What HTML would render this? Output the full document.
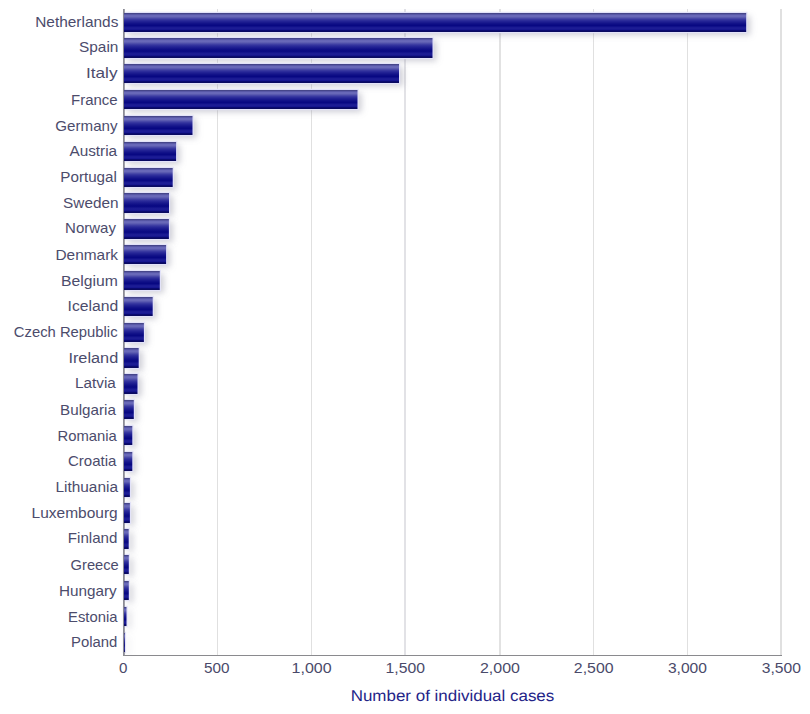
<!DOCTYPE html><html><head><meta charset="utf-8"><style>html,body{margin:0;padding:0;background:#fff;}svg{display:block;}text{font-family:"Liberation Sans",sans-serif;}</style></head><body>
<svg width="810" height="714" viewBox="0 0 810 714">
<defs>
<linearGradient id="g" x1="0" y1="0" x2="0" y2="1">
<stop offset="0.0263" stop-color="#46468a"/>
<stop offset="0.0789" stop-color="#5858a6"/>
<stop offset="0.1316" stop-color="#6868b8"/>
<stop offset="0.1842" stop-color="#6868b8"/>
<stop offset="0.2368" stop-color="#5a5ab0"/>
<stop offset="0.2895" stop-color="#4848a8"/>
<stop offset="0.3421" stop-color="#3838a0"/>
<stop offset="0.3947" stop-color="#2c2c9a"/>
<stop offset="0.4474" stop-color="#222294"/>
<stop offset="0.5000" stop-color="#1a1a8e"/>
<stop offset="0.5526" stop-color="#121289"/>
<stop offset="0.6053" stop-color="#0c0c85"/>
<stop offset="0.6579" stop-color="#080882"/>
<stop offset="0.7105" stop-color="#10108a"/>
<stop offset="0.7632" stop-color="#1a1a92"/>
<stop offset="0.8158" stop-color="#1c1c94"/>
<stop offset="0.8684" stop-color="#161690"/>
<stop offset="0.9211" stop-color="#0a0a70"/>
<stop offset="0.9737" stop-color="#0a0a60"/>
</linearGradient>
<filter id="sh" x="0" y="0" width="810" height="714" filterUnits="userSpaceOnUse">
<feGaussianBlur in="SourceAlpha" stdDeviation="3"/>
<feOffset dx="3.5" dy="3" result="b"/>
<feFlood flood-color="#8a8a9c" flood-opacity="0.42"/>
<feComposite in2="b" operator="in"/>
</filter>
</defs>
<rect width="810" height="714" fill="#fff"/>
<rect x="217" y="9" width="1" height="646" fill="#e0e0e0"/>
<rect x="311" y="9" width="1" height="646" fill="#e0e0e0"/>
<rect x="404" y="9" width="2" height="646" fill="#e2e2e6"/>
<rect x="499" y="9" width="2" height="646" fill="#e2e2e2"/>
<rect x="593" y="9" width="1" height="646" fill="#e0e0e0"/>
<rect x="687" y="9" width="1" height="646" fill="#e0e0e0"/>
<rect x="780" y="9" width="2" height="646" fill="#e0e0e0"/>
<rect x="124.00" y="13.00" width="622.20" height="19" fill="#000" filter="url(#sh)"/>
<rect x="124.00" y="38.00" width="308.50" height="20" fill="#000" filter="url(#sh)"/>
<rect x="124.00" y="64.00" width="275.00" height="19" fill="#000" filter="url(#sh)"/>
<rect x="124.00" y="90.00" width="233.50" height="19" fill="#000" filter="url(#sh)"/>
<rect x="124.00" y="116.00" width="68.50" height="19" fill="#000" filter="url(#sh)"/>
<rect x="124.00" y="142.00" width="52.10" height="19" fill="#000" filter="url(#sh)"/>
<rect x="124.00" y="168.00" width="48.70" height="19" fill="#000" filter="url(#sh)"/>
<rect x="124.00" y="193.00" width="45.00" height="20" fill="#000" filter="url(#sh)"/>
<rect x="124.00" y="219.00" width="44.90" height="20" fill="#000" filter="url(#sh)"/>
<rect x="124.00" y="245.00" width="42.10" height="19" fill="#000" filter="url(#sh)"/>
<rect x="124.00" y="271.00" width="35.80" height="19" fill="#000" filter="url(#sh)"/>
<rect x="124.00" y="297.00" width="28.70" height="19" fill="#000" filter="url(#sh)"/>
<rect x="124.00" y="323.00" width="19.90" height="19" fill="#000" filter="url(#sh)"/>
<rect x="124.00" y="348.00" width="14.70" height="20" fill="#000" filter="url(#sh)"/>
<rect x="124.00" y="374.00" width="13.50" height="20" fill="#000" filter="url(#sh)"/>
<rect x="124.00" y="400.00" width="9.80" height="19" fill="#000" filter="url(#sh)"/>
<rect x="124.00" y="426.00" width="8.30" height="19" fill="#000" filter="url(#sh)"/>
<rect x="124.00" y="452.00" width="8.30" height="19" fill="#000" filter="url(#sh)"/>
<rect x="124.00" y="478.00" width="5.90" height="19" fill="#000" filter="url(#sh)"/>
<rect x="124.00" y="503.00" width="5.90" height="20" fill="#000" filter="url(#sh)"/>
<rect x="124.00" y="529.00" width="4.70" height="20" fill="#000" filter="url(#sh)"/>
<rect x="124.00" y="555.00" width="4.80" height="19" fill="#000" filter="url(#sh)"/>
<rect x="124.00" y="581.00" width="4.80" height="19" fill="#000" filter="url(#sh)"/>
<rect x="124.00" y="607.00" width="2.50" height="19" fill="#000" filter="url(#sh)"/>
<rect x="124.00" y="633.00" width="0.90" height="19" fill="#000" filter="url(#sh)"/>
<rect x="124.00" y="13.00" width="622.20" height="19" fill="none" stroke="#e2e2f8" stroke-width="2.4"/>
<rect x="124.00" y="38.00" width="308.50" height="20" fill="none" stroke="#e2e2f8" stroke-width="2.4"/>
<rect x="124.00" y="64.00" width="275.00" height="19" fill="none" stroke="#e2e2f8" stroke-width="2.4"/>
<rect x="124.00" y="90.00" width="233.50" height="19" fill="none" stroke="#e2e2f8" stroke-width="2.4"/>
<rect x="124.00" y="116.00" width="68.50" height="19" fill="none" stroke="#e2e2f8" stroke-width="2.4"/>
<rect x="124.00" y="142.00" width="52.10" height="19" fill="none" stroke="#e2e2f8" stroke-width="2.4"/>
<rect x="124.00" y="168.00" width="48.70" height="19" fill="none" stroke="#e2e2f8" stroke-width="2.4"/>
<rect x="124.00" y="193.00" width="45.00" height="20" fill="none" stroke="#e2e2f8" stroke-width="2.4"/>
<rect x="124.00" y="219.00" width="44.90" height="20" fill="none" stroke="#e2e2f8" stroke-width="2.4"/>
<rect x="124.00" y="245.00" width="42.10" height="19" fill="none" stroke="#e2e2f8" stroke-width="2.4"/>
<rect x="124.00" y="271.00" width="35.80" height="19" fill="none" stroke="#e2e2f8" stroke-width="2.4"/>
<rect x="124.00" y="297.00" width="28.70" height="19" fill="none" stroke="#e2e2f8" stroke-width="2.4"/>
<rect x="124.00" y="323.00" width="19.90" height="19" fill="none" stroke="#e2e2f8" stroke-width="2.4"/>
<rect x="124.00" y="348.00" width="14.70" height="20" fill="none" stroke="#e2e2f8" stroke-width="2.4"/>
<rect x="124.00" y="374.00" width="13.50" height="20" fill="none" stroke="#e2e2f8" stroke-width="2.4"/>
<rect x="124.00" y="400.00" width="9.80" height="19" fill="none" stroke="#e2e2f8" stroke-width="2.4"/>
<rect x="124.00" y="426.00" width="8.30" height="19" fill="none" stroke="#e2e2f8" stroke-width="2.4"/>
<rect x="124.00" y="452.00" width="8.30" height="19" fill="none" stroke="#e2e2f8" stroke-width="2.4"/>
<rect x="124.00" y="478.00" width="5.90" height="19" fill="none" stroke="#e2e2f8" stroke-width="2.4"/>
<rect x="124.00" y="503.00" width="5.90" height="20" fill="none" stroke="#e2e2f8" stroke-width="2.4"/>
<rect x="124.00" y="529.00" width="4.70" height="20" fill="none" stroke="#e2e2f8" stroke-width="2.4"/>
<rect x="124.00" y="555.00" width="4.80" height="19" fill="none" stroke="#e2e2f8" stroke-width="2.4"/>
<rect x="124.00" y="581.00" width="4.80" height="19" fill="none" stroke="#e2e2f8" stroke-width="2.4"/>
<rect x="124.00" y="607.00" width="2.50" height="19" fill="none" stroke="#e2e2f8" stroke-width="2.4"/>
<rect x="124.00" y="633.00" width="0.90" height="19" fill="none" stroke="#e2e2f8" stroke-width="2.4"/>
<rect x="123" y="9" width="1.8" height="647" fill="#8c8c96"/>
<rect x="124.00" y="13.00" width="622.20" height="19" fill="url(#g)"/>
<rect x="124.00" y="38.00" width="308.50" height="20" fill="url(#g)"/>
<rect x="124.00" y="64.00" width="275.00" height="19" fill="url(#g)"/>
<rect x="124.00" y="90.00" width="233.50" height="19" fill="url(#g)"/>
<rect x="124.00" y="116.00" width="68.50" height="19" fill="url(#g)"/>
<rect x="124.00" y="142.00" width="52.10" height="19" fill="url(#g)"/>
<rect x="124.00" y="168.00" width="48.70" height="19" fill="url(#g)"/>
<rect x="124.00" y="193.00" width="45.00" height="20" fill="url(#g)"/>
<rect x="124.00" y="219.00" width="44.90" height="20" fill="url(#g)"/>
<rect x="124.00" y="245.00" width="42.10" height="19" fill="url(#g)"/>
<rect x="124.00" y="271.00" width="35.80" height="19" fill="url(#g)"/>
<rect x="124.00" y="297.00" width="28.70" height="19" fill="url(#g)"/>
<rect x="124.00" y="323.00" width="19.90" height="19" fill="url(#g)"/>
<rect x="124.00" y="348.00" width="14.70" height="20" fill="url(#g)"/>
<rect x="124.00" y="374.00" width="13.50" height="20" fill="url(#g)"/>
<rect x="124.00" y="400.00" width="9.80" height="19" fill="url(#g)"/>
<rect x="124.00" y="426.00" width="8.30" height="19" fill="url(#g)"/>
<rect x="124.00" y="452.00" width="8.30" height="19" fill="url(#g)"/>
<rect x="124.00" y="478.00" width="5.90" height="19" fill="url(#g)"/>
<rect x="124.00" y="503.00" width="5.90" height="20" fill="url(#g)"/>
<rect x="124.00" y="529.00" width="4.70" height="20" fill="url(#g)"/>
<rect x="124.00" y="555.00" width="4.80" height="19" fill="url(#g)"/>
<rect x="124.00" y="581.00" width="4.80" height="19" fill="url(#g)"/>
<rect x="124.00" y="607.00" width="2.50" height="19" fill="url(#g)"/>
<rect x="124.00" y="633.00" width="0.90" height="19" fill="url(#g)"/>
<rect x="123" y="655" width="659" height="1" fill="#8a8a8e"/>
<text x="118" y="27.00" text-anchor="end" font-size="14" fill="#4c4c6c" transform="translate(-11.765,0.000) scale(1.1027,1.0)">Netherlands</text>
<text x="118" y="52.00" text-anchor="end" font-size="14" fill="#4c4c6c" transform="translate(-11.584,0.000) scale(1.1016,1.0)">Spain</text>
<text x="118" y="78.00" text-anchor="end" font-size="14" fill="#4c4c6c" transform="translate(-27.415,0.000) scale(1.2284,1.0)">Italy</text>
<text x="118" y="105.00" text-anchor="end" font-size="14" fill="#4c4c6c" transform="translate(-8.612,0.000) scale(1.0705,1.0)">France</text>
<text x="118" y="131.00" text-anchor="end" font-size="14" fill="#4c4c6c" transform="translate(-10.005,0.000) scale(1.0809,1.0)">Germany</text>
<text x="118" y="156.00" text-anchor="end" font-size="14" fill="#4c4c6c" transform="translate(-12.231,0.000) scale(1.0966,1.0)">Austria</text>
<text x="118" y="182.00" text-anchor="end" font-size="14" fill="#4c4c6c" transform="translate(-11.152,0.000) scale(1.0848,1.0)">Portugal</text>
<text x="118" y="208.00" text-anchor="end" font-size="14" fill="#4c4c6c" transform="translate(-10.783,0.000) scale(1.0956,1.0)">Sweden</text>
<text x="118" y="233.00" text-anchor="end" font-size="14" fill="#4c4c6c" transform="translate(-10.507,0.000) scale(1.0716,1.0)">Norway</text>
<text x="118" y="260.00" text-anchor="end" font-size="14" fill="#4c4c6c" transform="translate(-12.046,0.000) scale(1.1025,1.0)">Denmark</text>
<text x="118" y="286.00" text-anchor="end" font-size="14" fill="#4c4c6c" transform="translate(-14.739,0.000) scale(1.1232,1.0)">Belgium</text>
<text x="118" y="311.00" text-anchor="end" font-size="14" fill="#4c4c6c" transform="translate(-14.408,0.000) scale(1.1240,1.0)">Iceland</text>
<text x="118" y="337.00" text-anchor="end" font-size="14" fill="#4c4c6c" transform="translate(-7.338,0.000) scale(1.0585,1.0)">Czech Republic</text>
<text x="118" y="363.00" text-anchor="end" font-size="14" fill="#4c4c6c" transform="translate(-19.089,0.000) scale(1.1639,1.0)">Ireland</text>
<text x="118" y="388.00" text-anchor="end" font-size="14" fill="#4c4c6c" transform="translate(-13.066,0.000) scale(1.0926,1.0)">Latvia</text>
<text x="118" y="415.00" text-anchor="end" font-size="14" fill="#4c4c6c" transform="translate(-12.369,0.000) scale(1.0867,1.0)">Bulgaria</text>
<text x="118" y="441.00" text-anchor="end" font-size="14" fill="#4c4c6c" transform="translate(-8.044,0.000) scale(1.0586,1.0)">Romania</text>
<text x="118" y="466.00" text-anchor="end" font-size="14" fill="#4c4c6c" transform="translate(-10.503,0.000) scale(1.0752,1.0)">Croatia</text>
<text x="118" y="492.00" text-anchor="end" font-size="14" fill="#4c4c6c" transform="translate(-11.950,0.000) scale(1.1010,1.0)">Lithuania</text>
<text x="118" y="518.00" text-anchor="end" font-size="14" fill="#4c4c6c" transform="translate(-13.010,0.000) scale(1.1078,1.0)">Luxembourg</text>
<text x="118" y="543.00" text-anchor="end" font-size="14" fill="#4c4c6c" transform="translate(-10.157,0.000) scale(1.0809,1.0)">Finland</text>
<text x="118" y="570.00" text-anchor="end" font-size="14" fill="#4c4c6c" transform="translate(-5.220,0.000) scale(1.0510,1.0)">Greece</text>
<text x="118" y="596.00" text-anchor="end" font-size="14" fill="#4c4c6c" transform="translate(-12.136,0.000) scale(1.0922,1.0)">Hungary</text>
<text x="118" y="622.00" text-anchor="end" font-size="14" fill="#4c4c6c" transform="translate(-7.610,0.000) scale(1.0600,1.0)">Estonia</text>
<text x="118" y="647.00" text-anchor="end" font-size="14" fill="#4c4c6c" transform="translate(-8.004,0.000) scale(1.0625,1.0)">Poland</text>
<text x="123.60" y="672.9" text-anchor="middle" font-size="14" fill="#4a4a6a" transform="translate(-10.543,0.000) scale(1.0828,1.0)">0</text>
<text x="217.52" y="672.9" text-anchor="middle" font-size="14" fill="#4a4a6a" transform="translate(-21.274,0.000) scale(1.0945,1.0)">500</text>
<text x="311.44" y="672.9" text-anchor="middle" font-size="14" fill="#4a4a6a" transform="translate(-44.837,0.000) scale(1.1444,1.0)">1,000</text>
<text x="405.36" y="672.9" text-anchor="middle" font-size="14" fill="#4a4a6a" transform="translate(-51.087,0.000) scale(1.1259,1.0)">1,500</text>
<text x="499.28" y="672.9" text-anchor="middle" font-size="14" fill="#4a4a6a" transform="translate(-69.215,0.000) scale(1.1400,1.0)">2,000</text>
<text x="593.20" y="672.9" text-anchor="middle" font-size="14" fill="#4a4a6a" transform="translate(-79.044,0.000) scale(1.1341,1.0)">2,500</text>
<text x="687.12" y="672.9" text-anchor="middle" font-size="14" fill="#4a4a6a" transform="translate(-78.998,0.000) scale(1.1154,1.0)">3,000</text>
<text x="781.04" y="672.9" text-anchor="middle" font-size="14" fill="#4a4a6a" transform="translate(-92.186,0.000) scale(1.1184,1.0)">3,500</text>
<text x="452.8" y="701" text-anchor="middle" text-rendering="geometricPrecision" font-size="15.7" fill="#242488" transform="translate(-37.040,0.000) scale(1.0811,1.0)">Number of individual cases</text>
</svg></body></html>
